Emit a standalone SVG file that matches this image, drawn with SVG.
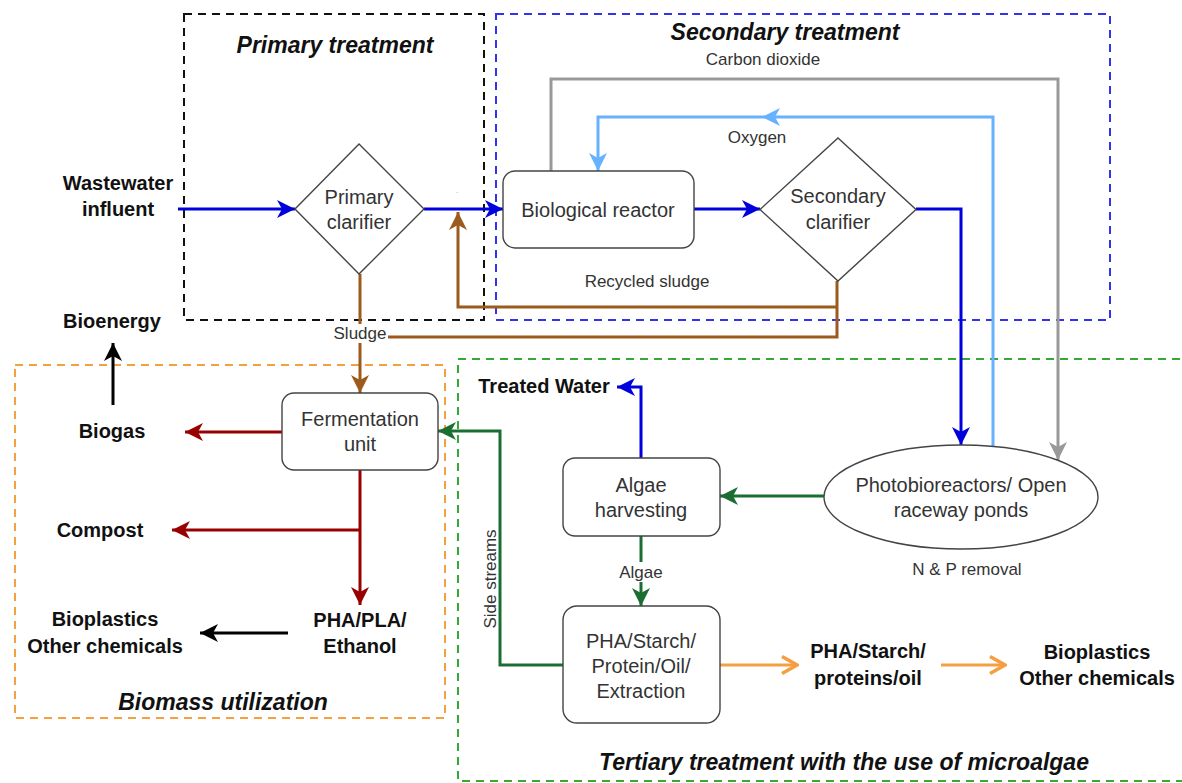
<svg xmlns="http://www.w3.org/2000/svg" width="1182" height="783" viewBox="0 0 1182 783">
<style>
text{font-family:"Liberation Sans",Arial,Helvetica,sans-serif;}
.node{fill:#fff;stroke:#444;stroke-width:1.4;}
.nt{font-size:20px;fill:#333;text-anchor:middle;}
.lbl{font-size:17px;fill:#333;text-anchor:middle;}
.bold{font-size:20px;font-weight:bold;fill:#111;text-anchor:middle;}
.title{font-size:23px;font-weight:bold;font-style:italic;fill:#111;text-anchor:middle;}
.grp{fill:none;stroke-width:2;stroke-dasharray:8 6;}
.c{fill:none;stroke-width:3;}
</style>
<defs>
<marker id="aBlue" markerUnits="userSpaceOnUse" viewBox="0 0 18 18" markerWidth="18" markerHeight="18" refX="18" refY="9" orient="auto"><path d="M0,0 L18,9 L0,18 L5,9 Z" fill="#0000dd"/></marker>
<marker id="aLBlue" markerUnits="userSpaceOnUse" viewBox="0 0 18 18" markerWidth="18" markerHeight="18" refX="18" refY="9" orient="auto"><path d="M0,0 L18,9 L0,18 L5,9 Z" fill="#66b2ff"/></marker>
<marker id="aGray" markerUnits="userSpaceOnUse" viewBox="0 0 18 18" markerWidth="18" markerHeight="18" refX="18" refY="9" orient="auto"><path d="M0,0 L18,9 L0,18 L5,9 Z" fill="#999"/></marker>
<marker id="aBrown" markerUnits="userSpaceOnUse" viewBox="0 0 18 18" markerWidth="18" markerHeight="18" refX="18" refY="9" orient="auto"><path d="M0,0 L18,9 L0,18 L5,9 Z" fill="#9c5a1c"/></marker>
<marker id="aRed" markerUnits="userSpaceOnUse" viewBox="0 0 18 18" markerWidth="18" markerHeight="18" refX="18" refY="9" orient="auto"><path d="M0,0 L18,9 L0,18 L5,9 Z" fill="#990000"/></marker>
<marker id="aBlack" markerUnits="userSpaceOnUse" viewBox="0 0 18 18" markerWidth="18" markerHeight="18" refX="18" refY="9" orient="auto"><path d="M0,0 L18,9 L0,18 L5,9 Z" fill="#000"/></marker>
<marker id="aGreen" markerUnits="userSpaceOnUse" viewBox="0 0 18 18" markerWidth="18" markerHeight="18" refX="18" refY="9" orient="auto"><path d="M0,0 L18,9 L0,18 L5,9 Z" fill="#1b6e31"/></marker>
<marker id="aOrange" markerUnits="userSpaceOnUse" viewBox="0 0 20 20" markerWidth="20" markerHeight="20" refX="18" refY="10" orient="auto"><path d="M3,1.5 L18,10 L3,18.5" fill="none" stroke="#f5a040" stroke-width="3.5"/></marker>
</defs>
<rect width="1182" height="783" fill="#fff"/>

<g id="groups">
<rect id="g-primary" class="grp" x="184" y="14" width="300" height="306" stroke="#111"/>
<rect id="g-secondary" class="grp" x="496" y="14" width="614" height="306" stroke="#3333ee"/>
<rect id="g-biomass" class="grp" x="15" y="365" width="430" height="353" stroke="#f5a040"/>
<rect id="g-tertiary" class="grp" x="458" y="359" width="740" height="422" stroke="#33aa33"/>
<text class="title" x="335" y="53">Primary treatment</text>
<text class="title" x="785" y="40">Secondary treatment</text>
<text class="title" x="223" y="710">Biomass utilization</text>
<text class="title" x="844" y="770">Tertiary treatment with the use of microalgae</text>
</g>

<g id="connectors">
<path class="c" stroke="#0000dd" d="M178,209 H295" marker-end="url(#aBlue)"/>
<path class="c" stroke="#0000dd" d="M424,209 H503" marker-end="url(#aBlue)"/>
<path class="c" stroke="#0000dd" d="M694,209 H760" marker-end="url(#aBlue)"/>
<path class="c" stroke="#0000dd" d="M916,209 H961 V445" marker-end="url(#aBlue)"/>
<path class="c" stroke="#999" d="M551,171 V79 H1058 V460" marker-end="url(#aGray)"/>
<path class="c" stroke="#66b2ff" d="M993,446 V117 H598 V171" marker-end="url(#aLBlue)"/>
<polygon points="762,117 780,108 775,117 780,126" fill="#66b2ff"/>
<path class="c" stroke="#9c5a1c" d="M360,274 V393" marker-end="url(#aBrown)"/>
<path class="c" stroke="#9c5a1c" d="M837,281 V337 H360"/>
<path class="c" stroke="#9c5a1c" d="M837,307 H458 V212" marker-end="url(#aBrown)"/>
<path class="c" stroke="#990000" d="M282,432 H185" marker-end="url(#aRed)"/>
<path class="c" stroke="#990000" d="M360,470 V605" marker-end="url(#aRed)"/>
<path class="c" stroke="#990000" d="M360,530 H172" marker-end="url(#aRed)"/>
<path class="c" stroke="#000" d="M288,633 H200" marker-end="url(#aBlack)"/>
<path class="c" stroke="#000" d="M113,405 V343" marker-end="url(#aBlack)"/>
<path class="c" stroke="#0000dd" d="M641,458 V387 H617" marker-end="url(#aBlue)"/>
<path class="c" stroke="#1b6e31" d="M824,496 H720" marker-end="url(#aGreen)"/>
<path class="c" stroke="#1b6e31" d="M641,536 V606" marker-end="url(#aGreen)"/>
<path class="c" stroke="#1b6e31" d="M563,665 H500 V431 H438" marker-end="url(#aGreen)"/>
<path class="c" stroke="#f5a040" d="M720,665 H797" marker-end="url(#aOrange)"/>
<path class="c" stroke="#f5a040" d="M941,665 H1005" marker-end="url(#aOrange)"/>
<text class="lbl" x="763" y="65">Carbon dioxide</text>
<text class="lbl" x="757" y="143">Oxygen</text>
<text class="lbl" x="647" y="287">Recycled sludge</text>
<rect x="332" y="324" width="56" height="19" fill="#fff"/>
<text class="lbl" x="360" y="339">Sludge</text>
<rect x="618" y="562" width="46" height="20" fill="#fff"/>
<text class="lbl" x="641" y="578">Algae</text>
<text class="lbl" x="967" y="575">N &amp; P removal</text>
<text class="lbl" transform="translate(496,579) rotate(-90)">Side streams</text>
<text x="457" y="193" font-size="8" fill="#999" text-anchor="middle">.</text>
</g>

<g id="n-wastewater"><text class="bold" x="118" y="190">Wastewater</text><text class="bold" x="118" y="216">influent</text></g>
<g id="n-primary-clarifier"><polygon class="node" points="359,144 424,209 359,274 295,209"/><text class="nt" x="359" y="204">Primary</text><text class="nt" x="359" y="229">clarifier</text></g>
<g id="n-bioreactor"><rect class="node" x="503" y="171" width="191" height="77" rx="12"/><text class="nt" x="598" y="217">Biological reactor</text></g>
<g id="n-secondary-clarifier"><polygon class="node" points="838,138 916,209.5 838,281 760,209.5"/><text class="nt" x="838" y="203">Secondary</text><text class="nt" x="838" y="229">clarifier</text></g>
<g id="n-fermentation"><rect class="node" x="282" y="393" width="156" height="77" rx="12"/><text class="nt" x="360" y="426">Fermentation</text><text class="nt" x="360" y="451">unit</text></g>
<g id="n-bioenergy"><text class="bold" x="112" y="328">Bioenergy</text></g>
<g id="n-biogas"><text class="bold" x="112" y="438">Biogas</text></g>
<g id="n-compost"><text class="bold" x="100" y="537">Compost</text></g>
<g id="n-pha-pla"><text class="bold" x="360" y="627">PHA/PLA/</text><text class="bold" x="360" y="653">Ethanol</text></g>
<g id="n-bioplastics-1"><text class="bold" x="105" y="626">Bioplastics</text><text class="bold" x="105" y="653">Other chemicals</text></g>
<g id="n-treated-water"><text class="bold" x="544" y="393">Treated Water</text></g>
<g id="n-harvesting"><rect class="node" x="563" y="458" width="157" height="78" rx="12"/><text class="nt" x="641" y="492">Algae</text><text class="nt" x="641" y="517">harvesting</text></g>
<g id="n-pbr"><ellipse class="node" cx="961" cy="497" rx="137" ry="52"/><text class="nt" x="961" y="492">Photobioreactors/ Open</text><text class="nt" x="961" y="517">raceway ponds</text></g>
<g id="n-extraction"><rect class="node" x="563" y="606" width="157" height="117" rx="14"/><text class="nt" x="641" y="648">PHA/Starch/</text><text class="nt" x="641" y="673">Protein/Oil/</text><text class="nt" x="641" y="698">Extraction</text></g>
<g id="n-products"><text class="bold" x="868" y="658">PHA/Starch/</text><text class="bold" x="868" y="685">proteins/oil</text></g>
<g id="n-bioplastics-2"><text class="bold" x="1097" y="659">Bioplastics</text><text class="bold" x="1097" y="685">Other chemicals</text></g>
</svg>
